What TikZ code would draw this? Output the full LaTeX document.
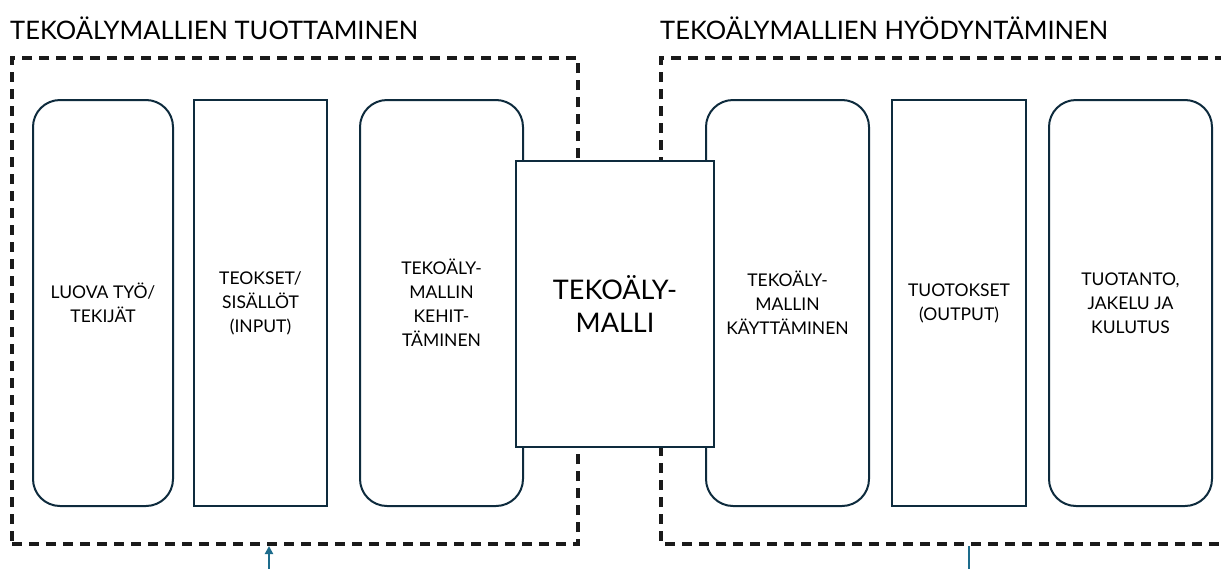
\documentclass[tikz,border=0pt]{standalone}
\usepackage{fontspec}
\setmainfont{Lato}
\usetikzlibrary{arrows.meta, positioning}
\usepackage{xcolor}
\definecolor{aiframe}{HTML}{1A1A1A}
\definecolor{aiedge}{HTML}{0E2B3D}
\definecolor{aiarrow}{HTML}{1D6C8C}

\begin{document}
\begin{tikzpicture}[
    x=1pt, y=-1pt,
    phase/.style={
        rectangle,
        rounded corners=27pt,
        minimum width=163pt,
        minimum height=406pt,
        draw=aiedge,
        fill=white,
        line width=2pt,
        align=center,
        font=\fontsize{17.5}{24}\selectfont
    },
    content/.style={
        phase,
        rounded corners=0pt,
        minimum width=134pt
    },
    model/.style={
        rectangle,
        minimum width=198pt,
        minimum height=286pt,
        draw=aiedge,
        fill=white,
        line width=2pt,
        align=center,
        font=\fontsize{27}{33}\selectfont
    },
    frame/.style={
        draw=aiframe,
        line width=4pt,
        dash pattern=on 10pt off 7pt
    },
    feed/.style={
        -{Triangle[length=8pt,width=8pt]},
        line width=2pt,
        aiarrow
    },
    heading/.style={
        anchor=west,
        inner sep=0pt,
        font=\fontsize{25.5}{30}\selectfont
    }
]
\useasboundingbox (0,0) rectangle (1221,568);

% Headings
\node[heading] (prodtitle) at (10,28) {TEKOÄLYMALLIEN TUOTTAMINEN};
\node[heading] (usetitle) at (660,28) {TEKOÄLYMALLIEN HYÖDYNTÄMINEN};

% Dashed frames
\node[frame, minimum width=566pt, minimum height=486pt] (prodframe) at (295,301) {};
\draw[frame] (1225,58) -- (661,58) -- (661,544) -- (1225,544);

% Production side
\node[phase, minimum width=140pt] (creators) at (103,303) {LUOVA TYÖ/\\TEKIJÄT};
\node[content, minimum width=133pt] (input) at (260.5,303) {TEOKSET/\\SISÄLLÖT\\(INPUT)};
\node[phase] (develop) at (441.5,303) {TEKOÄLY-\\MALLIN\\KEHIT-\\TÄMINEN};

% Use side
\node[phase] (apply) at (787.5,303) {TEKOÄLY-\\MALLIN\\KÄYTTÄMINEN};
\node[content] (output) at (959,303) {TUOTOKSET\\(OUTPUT)};
\node[phase] (distribute) at (1130.5,303) {TUOTANTO,\\JAKELU JA\\KULUTUS};

% Model in the middle
\node[model] (aimodel) at (615,304) {TEKOÄLY-\\MALLI};

% Pointers from below
\coordinate (prodpoint) at (269,570);
\coordinate (usepoint) at (969,570);
\draw[feed] (prodpoint) -- (prodpoint |- prodframe.south);
\draw[line width=2pt, aiarrow] (usepoint) -- (969,546);

\end{tikzpicture}
\end{document}
